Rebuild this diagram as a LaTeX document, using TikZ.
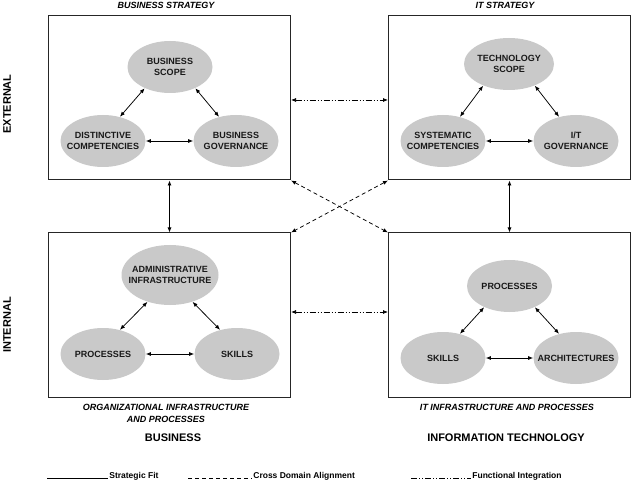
\documentclass[tikz,border=0pt]{standalone}
\usepackage{fontspec}
\setmainfont{Liberation Sans}
\usetikzlibrary{arrows.meta,shapes.geometric,positioning}

\begin{document}
\begin{tikzpicture}[x=1pt, y=-1pt, <->, >={Latex[length=5pt,width=4pt]}, line width=0.75pt, font=\bfseries]
	\tikzstyle{domainbox}=[draw=black!85, line width=1pt, rectangle, minimum width=242pt, minimum height=164pt, inner sep=0pt]
	\tikzstyle{comp}=[ellipse, fill=black!21, text=black!90, inner xsep=-12pt, inner ysep=-4pt, minimum width=85pt, minimum height=52pt, align=center, font=\fontsize{9}{11}\selectfont\bfseries]
	\tikzstyle{headtext}=[anchor=base, inner sep=0pt, align=center, font=\fontsize{9}{12}\selectfont\bfseries\itshape]
	\tikzstyle{sidetext}=[inner sep=0pt, font=\fontsize{11}{13}\selectfont\bfseries]
	\tikzstyle{legendtext}=[anchor=base west, inner sep=1pt, font=\fontsize{8.5}{10}\selectfont\bfseries]
	\tikzstyle{crossdomain}=[dash pattern=on 4pt off 3pt]
	\tikzstyle{funcint}=[dash pattern=on 6pt off 2pt on 1pt off 2pt on 1pt off 2pt]
	\useasboundingbox (0,0) rectangle (632,481);

	% the four domains
	\node[domainbox] (BS)  at (169.5,98)  {};
	\node[domainbox] (ITS) at (509.5,98)  {};
	\node[domainbox] (BO)  at (169.5,315) {};
	\node[domainbox] (ITI) at (509.5,315) {};

	% business strategy
	\node[comp] (bscope) at (170,67)  {BUSINESS\\SCOPE};
	\node[comp] (bcomp)  at (103,141) {DISTINCTIVE\\COMPETENCIES};
	\node[comp] (bgov)   at (236,141) {BUSINESS\\GOVERNANCE};
	% it strategy
	\node[comp, minimum width=90pt] (tscope) at (509,64) {TECHNOLOGY\\SCOPE};
	\node[comp] (tcomp) at (443,141) {SYSTEMATIC\\COMPETENCIES};
	\node[comp] (tgov)  at (576,141) {I/T\\GOVERNANCE};
	% organizational infrastructure
	\node[comp, minimum width=97pt, minimum height=60pt] (admin) at (170,275) {ADMINISTRATIVE\\INFRASTRUCTURE};
	\node[comp] (oproc)  at (103,354) {PROCESSES};
	\node[comp] (oskill) at (237,354) {SKILLS};
	% it infrastructure
	\node[comp] (iproc)  at (509.5,286) {PROCESSES};
	\node[comp] (iskill) at (443,358)   {SKILLS};
	\node[comp] (iarch)  at (576,358)   {ARCHITECTURES};

	\path
	(bscope.220) edge (bcomp.55)
	(bscope.320) edge (bgov.125)
	(bcomp.east) edge (bgov.west)

	(tscope.220) edge (tcomp.55)
	(tscope.320) edge (tgov.125)
	(tcomp.east) edge (tgov.west)

	(admin.230) edge (oproc.55)
	(admin.310) edge (oskill.125)
	(oproc.east) edge (oskill.west)

	(iproc.220) edge (iskill.55)
	(iproc.320) edge (iarch.125)
	(iskill.east) edge (iarch.west);

	% links between domains
	\path
	(BS.south) edge (BO.north)
	(ITS.south) edge (ITI.north)
	([yshift=-2pt]BS.east) edge[funcint] ([yshift=-2pt]ITS.west)
	([yshift=3pt]BO.east) edge[funcint] ([yshift=3pt]ITI.west)
	(BS.south east) edge[crossdomain] (ITI.north west)
	(ITS.south west) edge[crossdomain] (BO.north east);

	% labels
	\node[headtext] (bsT) at (166,8.5) {BUSINESS STRATEGY};
	\node[headtext] (itT) at (505,8.5) {IT STRATEGY};
	\node[headtext, anchor=center] (boT) at (166,413) {ORGANIZATIONAL INFRASTRUCTURE\\AND PROCESSES};
	\node[headtext] (iiT) at (507,410) {IT INFRASTRUCTURE AND PROCESSES};
	\node[sidetext, rotate=90] (ext) at (7,104) {EXTERNAL};
	\node[sidetext, rotate=90] (int) at (7,325) {INTERNAL};
	\node[sidetext, anchor=base] (bus) at (173,441) {BUSINESS};
	\node[sidetext, anchor=base] (inf) at (506,441) {INFORMATION TECHNOLOGY};

	% legend
	\coordinate (sfA) at (47,478);
	\coordinate (cdA) at (188,478);
	\coordinate (fiA) at (411,478);
	\node[legendtext] (sf) at (108,478) {Strategic Fit};
	\node[legendtext] (cd) at (252,478) {Cross Domain Alignment};
	\node[legendtext] (fi) at (471,478) {Functional Integration};
	\draw[-, line width=0.6pt] (sfA) -- (sf.base west);
	\draw[-, line width=0.6pt, crossdomain] (cdA) -- (cd.base west);
	\draw[-, line width=0.6pt, funcint] (fiA) -- (fi.base west);
\end{tikzpicture}
\end{document}
